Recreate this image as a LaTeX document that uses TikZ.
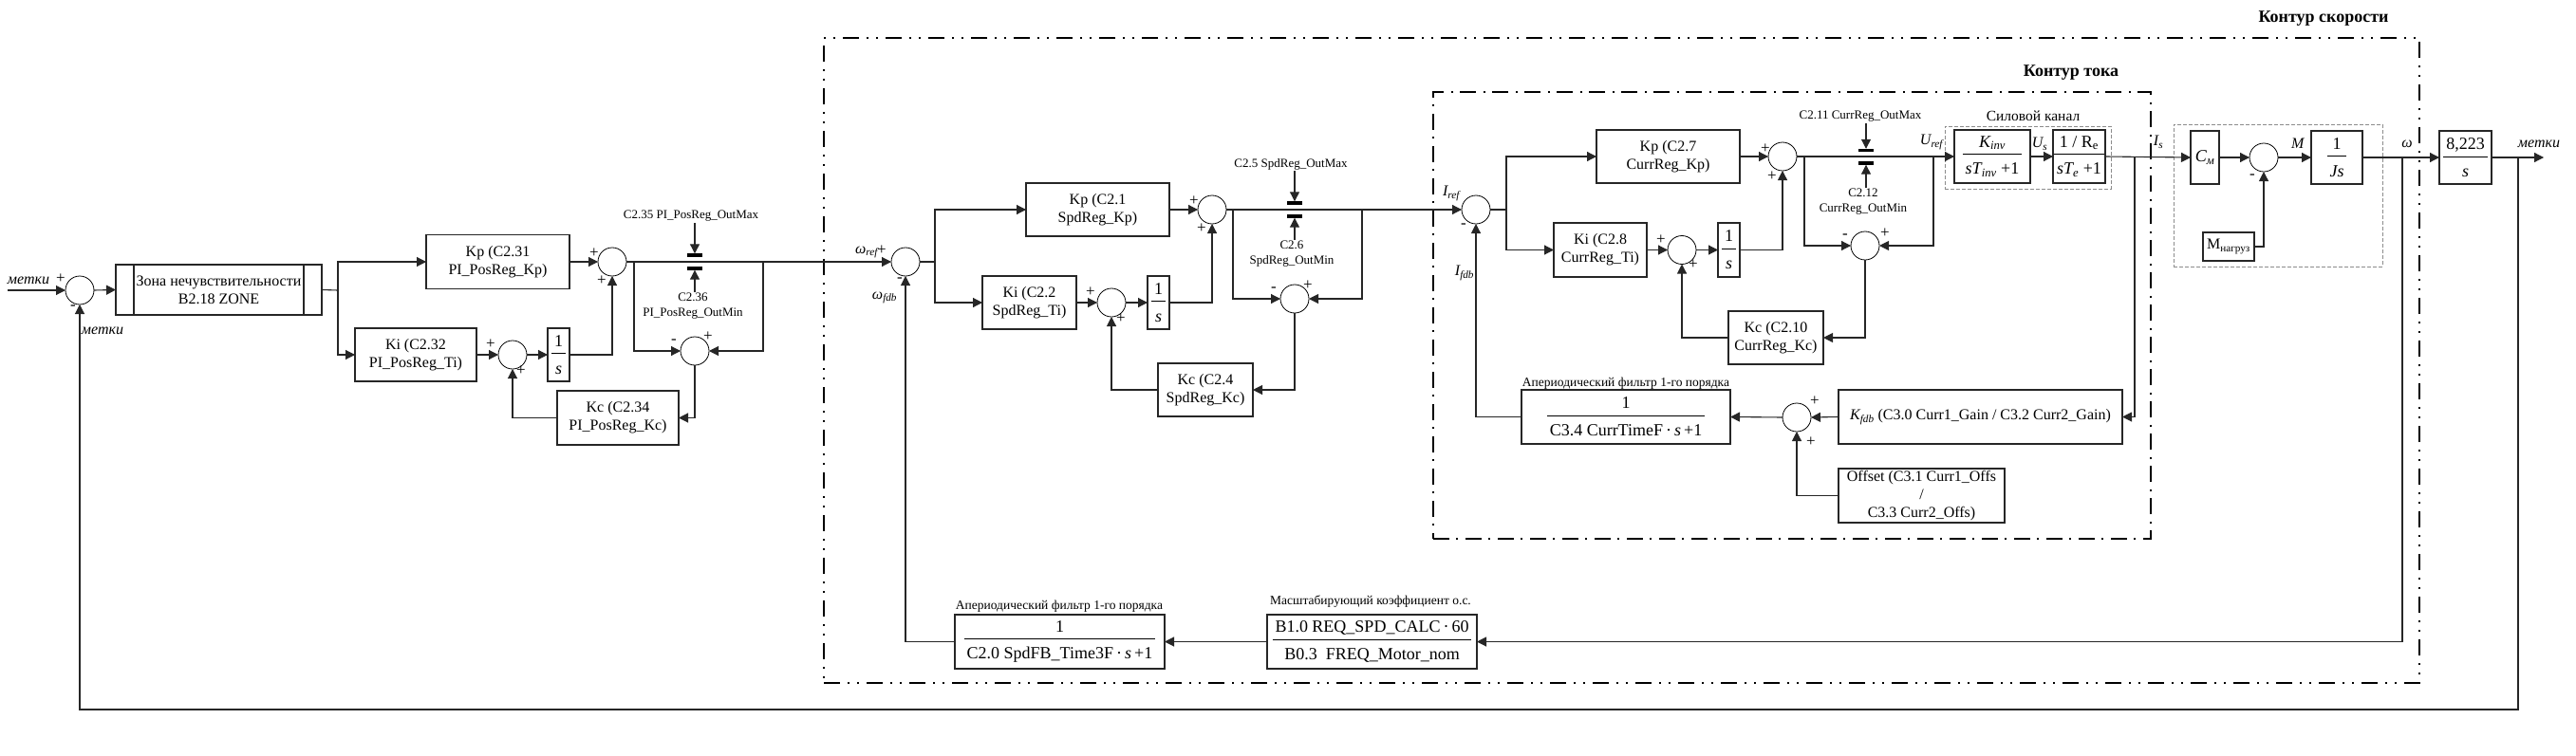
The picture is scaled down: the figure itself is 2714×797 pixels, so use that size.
\documentclass[tikz,border=0pt]{standalone}
\usepackage{amsmath}
\usepackage{fontspec}
\setmainfont{Liberation Serif}
\usetikzlibrary{arrows.meta}
\definecolor{linecol}{gray}{0.15}
\newcommand{\frc}[2]{$\dfrac{\rule[-4pt]{0pt}{1pt}\,#1\,}{\rule{0pt}{19pt}\,#2\,}$}
\tikzset{
    sumnode/.style={circle,draw=black,line width=0.8pt,fill=white,minimum size=30pt,inner sep=0pt,outer sep=0pt},
    blockbox/.style 2 args={draw=linecol,line width=1.1pt,fill=white,minimum width=#1,minimum height=#2,inner sep=0pt,outer sep=0pt,align=center,font=\fontsize{16}{19}\selectfont},
    fracbox/.style 2 args={blockbox={#1}{#2},font=\fontsize{18}{21}\selectfont},
    limbar/.style={fill=black,minimum width=16pt,minimum height=3.4pt,inner sep=0pt,outer sep=0pt},
    smalltxt/.style={inner sep=1pt,align=center,font=\fontsize{13}{16}\selectfont},
    sigtxt/.style={inner sep=0pt,font=\fontsize{16}{19}\selectfont},
    headtxt/.style={inner sep=0pt,font=\fontsize{18}{20}\selectfont\bfseries},
    signtxt/.style={inner sep=0pt,font=\fontsize{17}{17}\selectfont},
    wire/.style={draw=linecol,line width=1.1pt},
    link/.style={wire,-{Triangle[length=10pt,width=10pt]}},
    frameout/.style 2 args={draw=black,line width=1.5pt,minimum width=#1,minimum height=#2,outer sep=0pt,dash pattern=on 17pt off 8pt on 2pt off 8pt on 2pt off 8pt},
    framein/.style 2 args={draw=black,line width=1.5pt,minimum width=#1,minimum height=#2,outer sep=0pt,dash pattern=on 17pt off 7pt on 2pt off 8pt},
    framedash/.style 2 args={draw=black!45,line width=0.8pt,minimum width=#1,minimum height=#2,outer sep=0pt,dash pattern=on 4pt off 2pt}
}
\begin{document}
\begin{tikzpicture}[x=1pt,y=-1pt]
    \useasboundingbox (0,0) rectangle (2714,797);

    \node[frameout={1681}{680}] (frameSpd) at (1708.5,380) {};
    \node[framein={756}{471}] (frameCur) at (1888,332.5) {};
    \node[framedash={175}{66}] (framePow) at (2136.5,166) {};
    \node[framedash={220}{150}] (frameMot) at (2400,206) {};
    \node[headtxt] (headSpd) at (2448,20) {Контур скорости};
    \node[headtxt] (headCur) at (2182,77) {Контур тока};
    \node[smalltxt,font=\fontsize{15.5}{18}\selectfont] (headPow) at (2142,122) {Силовой канал};

    \coordinate (inA) at (8,306);
    \node[sumnode] (sumA) at (84,306) {};
    \node[blockbox={217}{53}] (dzA) at (230.5,305.5) {Зона нечувствительности\\B2.18 ZONE};
    \coordinate (brA) at (356,306);
    \node[blockbox={151}{57}] (kpA) at (524.5,276) {Kp (C2.31\\PI\_PosReg\_Kp)};
    \node[sumnode] (sumB) at (645,276) {};
    \node[blockbox={128}{56}] (kiA) at (438,374) {Ki (C2.32\\PI\_PosReg\_Ti)};
    \node[sumnode] (sumC) at (540,374) {};
    \node[fracbox={23}{56}] (oneA) at (588.5,374) {\frc{\text{1}}{\textit{s}}};
    \node[blockbox={128}{57}] (kcA) at (651,440.5) {Kc (C2.34\\PI\_PosReg\_Kc)};
    \node[sumnode] (sumD) at (732,370) {};
    \node[limbar] (maxA) at (732,269) {};
    \node[limbar] (minA) at (732,283) {};
    \node[smalltxt] (txtMaxA) at (728,228) {C2.35 PI\_PosReg\_OutMax};
    \node[smalltxt] (txtMinA) at (730,323) {C2.36\\PI\_PosReg\_OutMin};
    \coordinate (brB) at (668,276);
    \coordinate (brC) at (804,276);
    \node[sigtxt] (lblInA) at (30,296) {\textit{метки}};
    \node[sigtxt] (lblFbA) at (108,349) {\textit{метки}};

    \node[sumnode] (sumE) at (954,276) {};
    \coordinate (brD) at (985,276);
    \node[blockbox={151}{56}] (kpB) at (1156.5,221) {Kp (C2.1\\SpdReg\_Kp)};
    \node[sumnode] (sumF) at (1277,221) {};
    \node[blockbox={99}{56}] (kiB) at (1084.5,319) {Ki (C2.2\\SpdReg\_Ti)};
    \node[sumnode] (sumG) at (1171,319) {};
    \node[fracbox={23}{56}] (oneB) at (1220.5,319) {\frc{\text{1}}{\textit{s}}};
    \node[blockbox={100}{56}] (kcB) at (1270,411) {Kc (C2.4\\SpdReg\_Kc)};
    \node[sumnode] (sumH) at (1364,315) {};
    \node[limbar] (maxB) at (1364,214) {};
    \node[limbar] (minB) at (1364,228) {};
    \node[smalltxt] (txtMaxB) at (1360,173) {C2.5 SpdReg\_OutMax};
    \node[smalltxt] (txtMinB) at (1361,268) {C2.6\\SpdReg\_OutMin};
    \coordinate (brE) at (1299,221);
    \coordinate (brF) at (1435,221);
    \node[sigtxt] (lblWref) at (913,266) {$\textit{ω}_{\textit{ref}}$};
    \node[sigtxt] (lblWfdb) at (932,314) {$\textit{ω}_{\textit{fdb}}$};

    \node[sumnode] (sumI) at (1555,221) {};
    \coordinate (brG) at (1587,221);
    \node[blockbox={151}{56}] (kpC) at (1757.5,165) {Kp (C2.7\\CurrReg\_Kp)};
    \node[sumnode] (sumJ) at (1878,165) {};
    \node[blockbox={98}{57}] (kiC) at (1686,263.5) {Ki (C2.8\\CurrReg\_Ti)};
    \node[sumnode] (sumK) at (1772,263.5) {};
    \node[fracbox={23}{57}] (oneC) at (1821.5,263.5) {\frc{\text{1}}{\textit{s}}};
    \node[blockbox={100}{56}] (kcC) at (1871,356) {Kc (C2.10\\CurrReg\_Kc)};
    \node[sumnode] (sumL) at (1965,259) {};
    \node[limbar] (maxC) at (1966,158.5) {};
    \node[limbar] (minC) at (1966,172) {};
    \node[smalltxt] (txtMaxC) at (1960,123) {C2.11 CurrReg\_OutMax};
    \node[smalltxt] (txtMinC) at (1963,212.5) {C2.12\\CurrReg\_OutMin};
    \coordinate (brH) at (1901,165);
    \coordinate (brI) at (2037,165);
    \node[sigtxt] (lblIref) at (1529,204) {$\textit{I}_{\textit{ref}}$};
    \node[sigtxt] (lblIfdb) at (1543,288) {$\textit{I}_{\textit{fdb}}$};
    \node[sigtxt] (lblUref) at (2035,150) {$\textit{U}_{\textit{ref}}$};

    \node[fracbox={80}{56}] (kinvB) at (2099,165) {\frc{\textit{K}_{\textit{inv}}}{\textit{sT}_{\textit{inv}}\text{ +1}}};
    \node[fracbox={55}{56}] (reB) at (2190.5,165) {\frc{\text{1 / R}_{\text{e}}}{\textit{sT}_{\textit{e}}\text{ +1}}};
    \node[sigtxt] (lblUs) at (2149,152) {$\textit{U}_{\textit{s}}$};
    \coordinate (brJ) at (2249,165);
    \node[sigtxt] (lblIs) at (2274,150) {$\textit{I}_{\textit{s}}$};

    \node[fracbox={30}{56}] (cmB) at (2323,166) {$\textit{C}_{\textit{м}}$};
    \node[sumnode] (sumM) at (2385,166) {};
    \node[fracbox={54}{56}] (jsB) at (2462,166) {\frc{\text{1}}{\textit{Js}}};
    \node[blockbox={54}{30}] (mnB) at (2348,260) {M$_{\text{нагруз}}$};
    \node[fracbox={55}{56}] (outB) at (2597.5,166) {\frc{\text{8,223}}{\textit{s}}};
    \node[sigtxt] (lblM) at (2421,151) {\textit{M}};
    \node[sigtxt] (lblW) at (2536,152) {\textit{ω}};
    \node[sigtxt] (lblOut) at (2675,152) {\textit{метки}};
    \coordinate (brK) at (2531,166);
    \coordinate (brL) at (2653,166);
    \coordinate (endL) at (2680,166);
    \coordinate (brM) at (2653,748);

    \node[fracbox={220}{57}] (filtC) at (1713,439.5) {\frc{\text{1}}{\text{C3.4 CurrTimeF\,·\,\textit{s}\,+1}}};
    \node[smalltxt,font=\fontsize{13.5}{16}\selectfont] (txtFiltC) at (1713,404) {Апериодический фильтр 1-го порядка};
    \node[sumnode] (sumN) at (1893,440) {};
    \node[blockbox={299}{57}] (kfdb) at (2086.5,439.5) {$\textit{K}_{\textit{fdb}}$ (C3.0 Curr1\_Gain / C3.2 Curr2\_Gain)};
    \node[blockbox={175}{57}] (offs) at (2024.5,522.5) {Offset (C3.1 Curr1\_Offs\\/\\C3.3 Curr2\_Offs)};

    \node[fracbox={221}{57}] (filtS) at (1116.5,676.5) {\frc{\text{1}}{\text{C2.0 SpdFB\_Time3F\,·\,\textit{s}\,+1}}};
    \node[smalltxt,font=\fontsize{13.5}{16}\selectfont] (txtFiltS) at (1116,639) {Апериодический фильтр 1-го порядка};
    \node[fracbox={221}{57}] (scale) at (1445.5,676.5) {\frc{\text{B1.0 REQ\_SPD\_CALC\,·\,60}}{\text{B0.3\ \ FREQ\_Motor\_nom}}};
    \node[smalltxt,font=\fontsize{13.5}{16}\selectfont] (txtScale) at (1444,634) {Масштабирующий коэффициент о.с.};

    \draw[wire] ([xshift=19pt]dzA.north west) -- ([xshift=19pt]dzA.south west);
    \draw[wire] ([xshift=-19pt]dzA.north east) -- ([xshift=-19pt]dzA.south east);

    \draw[link] (inA) -- (sumA.west);
    \draw[link] (sumA.east) -- (dzA.west);
    \draw[wire] (dzA.east) -- (brA);
    \draw[link] (brA) |- (kpA.west);
    \draw[link] (brA) |- (kiA.west);
    \draw[link] (kpA.east) -- (sumB.west);
    \draw[link] (kiA.east) -- (sumC.west);
    \draw[link] (sumC.east) -- (oneA.west);
    \draw[link] (oneA.east) -| (sumB.south);
    \draw[link] (kcA.west) -| (sumC.south);
    \draw[link] (sumD.south) |- (kcA.east);
    \draw[link] (brB) |- (sumD.west);
    \draw[link] (brC) |- (sumD.east);
    \draw[link] (txtMaxA.south -| maxA.north) -- (maxA.north);
    \draw[link] (txtMinA.north -| minA.south) -- (minA.south);
    \draw[link] (sumB.east) -- (sumE.west);

    \draw[wire] (sumE.east) -- (brD);
    \draw[link] (brD) |- (kpB.west);
    \draw[link] (brD) |- (kiB.west);
    \draw[link] (kpB.east) -- (sumF.west);
    \draw[link] (kiB.east) -- (sumG.west);
    \draw[link] (sumG.east) -- (oneB.west);
    \draw[link] (oneB.east) -| (sumF.south);
    \draw[link] (kcB.west) -| (sumG.south);
    \draw[link] (sumH.south) |- (kcB.east);
    \draw[link] (brE) |- (sumH.west);
    \draw[link] (brF) |- (sumH.east);
    \draw[link] (txtMaxB.south -| maxB.north) -- (maxB.north);
    \draw[link] (txtMinB.north -| minB.south) -- (minB.south);
    \draw[link] (sumF.east) -- (sumI.west);

    \draw[wire] (sumI.east) -- (brG);
    \draw[link] (brG) |- (kpC.west);
    \draw[link] (brG) |- (kiC.west);
    \draw[link] (kpC.east) -- (sumJ.west);
    \draw[link] (kiC.east) -- (sumK.west);
    \draw[link] (sumK.east) -- (oneC.west);
    \draw[link] (oneC.east) -| (sumJ.south);
    \draw[link] (kcC.west) -| (sumK.south);
    \draw[link] (sumL.south) |- (kcC.east);
    \draw[link] (brH) |- (sumL.west);
    \draw[link] (brI) |- (sumL.east);
    \draw[link] (txtMaxC.south -| maxC.north) -- (maxC.north);
    \draw[link] (txtMinC.north -| minC.south) -- (minC.south);
    \draw[link] (sumJ.east) -- (kinvB.west);

    \draw[link] (kinvB.east) -- (reB.west);
    \draw[link] (reB.east) -- (cmB.west);
    \draw[link] (brJ) |- (kfdb.east);
    \draw[link] (kfdb.west) -- (sumN.east);
    \draw[link] (sumN.west) -- (filtC.east);
    \draw[link] (offs.west) -| (sumN.south);
    \draw[link] (filtC.west) -| (sumI.south);

    \draw[link] (cmB.east) -- (sumM.west);
    \draw[link] (sumM.east) -- (jsB.west);
    \draw[link] (mnB.east) -| (sumM.south);
    \draw[link] (jsB.east) -- (outB.west);
    \draw[link] (outB.east) -- (endL);
    \draw[link] (brK) |- (scale.east);
    \draw[link] (scale.west) -- (filtS.east);
    \draw[link] (filtS.west) -| (sumE.south);
    \draw[link] (brL) -- (brM) -| (sumA.south);

    \node[signtxt] (sgnA1) at (64,294) {+};
    \node[signtxt] (sgnA2) at (77,324) {-};
    \node[signtxt] (sgnB1) at (626,267) {+};
    \node[signtxt] (sgnB2) at (634,296) {+};
    \node[signtxt] (sgnC1) at (517,363) {+};
    \node[signtxt] (sgnC2) at (549,391) {+};
    \node[signtxt] (sgnD1) at (710,360) {-};
    \node[signtxt] (sgnD2) at (746,355) {+};
    \node[signtxt] (sgnE1) at (929,264) {+};
    \node[signtxt] (sgnE2) at (948,295) {-};
    \node[signtxt] (sgnF1) at (1258,212) {+};
    \node[signtxt] (sgnF2) at (1266,241) {+};
    \node[signtxt] (sgnG1) at (1149,308) {+};
    \node[signtxt] (sgnG2) at (1181,336) {+};
    \node[signtxt] (sgnH1) at (1342,305) {-};
    \node[signtxt] (sgnH2) at (1378,301) {+};
    \node[signtxt] (sgnI1) at (1542,238) {-};
    \node[signtxt] (sgnJ1) at (1860,157) {+};
    \node[signtxt] (sgnJ2) at (1867,186) {+};
    \node[signtxt] (sgnK1) at (1750,253) {+};
    \node[signtxt] (sgnK2) at (1784,279) {+};
    \node[signtxt] (sgnL1) at (1944,249) {-};
    \node[signtxt] (sgnL2) at (1986,246) {+};
    \node[signtxt] (sgnM1) at (2373,186) {-};
    \node[signtxt] (sgnN1) at (1912,423) {+};
    \node[signtxt] (sgnN2) at (1908,466) {+};
\end{tikzpicture}
\end{document}
